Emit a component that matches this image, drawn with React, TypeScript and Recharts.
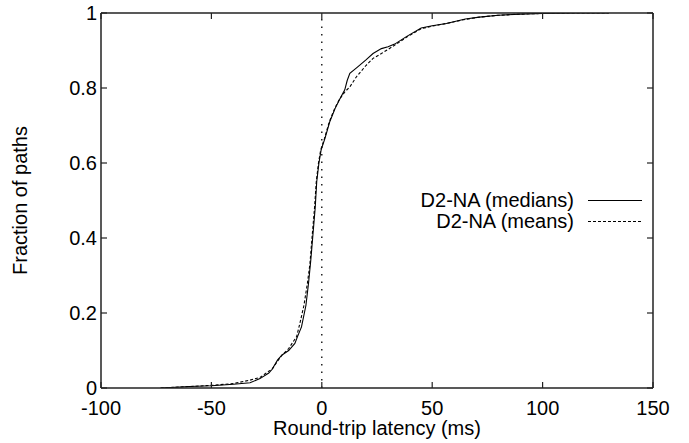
import * as React from 'react';
import { LineChart, Line, XAxis, YAxis, ReferenceLine, Label } from 'recharts';

// values (latency in ms, cumulative fraction of paths)
const medianLatency = [-73, -60, -50, -40, -32.5, -28, -24, -22.5, -20, -18, -15, -12.2, -11, -9.2, -7.2, -6, -5, -4, -3, -2.3, -1.3, -0.3, 1.4, 3.6, 6, 8.1, 10.4, 11.5, 12.7, 16, 20, 23.2, 27, 30, 33, 38.3, 45, 50, 56.4, 65, 71.4, 80, 90, 100, 115, 130];
const medianFraction = [0, 0.004, 0.006, 0.01, 0.014, 0.025, 0.04, 0.05, 0.075, 0.088, 0.1, 0.119, 0.137, 0.163, 0.22, 0.28, 0.34, 0.41, 0.48, 0.55, 0.6, 0.635, 0.665, 0.71, 0.745, 0.77, 0.795, 0.82, 0.839, 0.855, 0.875, 0.892, 0.905, 0.91, 0.917, 0.937, 0.96, 0.966, 0.972, 0.984, 0.989, 0.994, 0.997, 0.999, 1, 1];

const meanLatency = [-73, -60, -50, -40, -32.5, -28, -24, -22.5, -20, -18, -15, -13, -11.4, -9.9, -8.1, -6.5, -5.4, -4.3, -3.3, -2.5, -1.5, -0.5, 1.2, 3.4, 5.8, 8, 10.5, 12.7, 15.7, 20, 23.2, 27, 30, 32.2, 38.3, 45, 50, 56.4, 65, 71.4, 80, 90, 100, 115, 130];
const meanFraction = [0, 0.004, 0.007, 0.012, 0.021, 0.028, 0.045, 0.05, 0.072, 0.088, 0.105, 0.123, 0.137, 0.173, 0.22, 0.28, 0.33, 0.41, 0.48, 0.55, 0.6, 0.635, 0.665, 0.71, 0.745, 0.77, 0.79, 0.803, 0.83, 0.86, 0.879, 0.892, 0.903, 0.911, 0.935, 0.958, 0.965, 0.972, 0.983, 0.989, 0.994, 0.997, 0.999, 1, 1];

const xTicks = [-100, -50, 0, 50, 100, 150];
const yTicks = [0, 0.2, 0.4, 0.6, 0.8, 1];

const seriesNames = ['D2-NA (medians)', 'D2-NA (means)'];

const medians = medianLatency.map((v, i) => ({ v, f: medianFraction[i] }));
const means = meanLatency.map((v, i) => ({ v, f: meanFraction[i] }));

const FONT = '"Liberation Sans", Arial, sans-serif';
const INK = '#000';
const TICK = 6;
const axisStyle = { stroke: '#222', strokeWidth: 1.5 };

const BottomTick = (p: any) => (
  <g>
    <line x1={p.x} x2={p.x} y1={p.y} y2={p.y - TICK} stroke="#222" strokeWidth={1.2} />
    <text x={p.x} y={p.y + 27} textAnchor="middle" fontSize={20} fontFamily={FONT} fill={INK}>
      {p.payload.value}
    </text>
  </g>
);

const LeftTick = (p: any) => (
  <g>
    <line x1={p.x} x2={p.x + TICK} y1={p.y} y2={p.y} stroke="#222" strokeWidth={1.2} />
    <text x={p.x - 4} y={p.y} dy="0.36em" textAnchor="end" fontSize={20} fontFamily={FONT} fill={INK}>
      {p.payload.value}
    </text>
  </g>
);

const TopTick = (p: any) => (
  <line x1={p.x} x2={p.x} y1={p.y} y2={p.y + TICK} stroke="#222" strokeWidth={1.2} />
);

const RightTick = (p: any) => (
  <line x1={p.x} x2={p.x - TICK} y1={p.y} y2={p.y} stroke="#222" strokeWidth={1.2} />
);

// gnuplot-style key, placed over the plot area
const LegendBox = () => (
  <div style={{ position: 'absolute', left: 400, top: 190, width: 260, fontFamily: FONT, fontSize: 20, color: INK }}>
    {seriesNames.map((name, i) => (
      <div key={name} style={{ display: 'flex', alignItems: 'center', height: 21 }}>
        <span style={{ width: 174, textAlign: 'right', lineHeight: '21px', whiteSpace: 'nowrap' }}>{name}</span>
        <svg width={54} height={21} style={{ marginLeft: 14 }}>
          <line x1={0} x2={54} y1={10.5} y2={10.5} stroke={INK} strokeWidth={1.1}
            strokeDasharray={i === 1 ? '3 2' : undefined} />
        </svg>
      </div>
    ))}
  </div>
);

export default function App() {
  return (
    <div style={{ position: 'absolute', left: 0, top: 0, width: 689, height: 443, fontFamily: FONT }}>
      <LineChart width={689} height={443} margin={{ top: 0, right: 0, bottom: 0, left: 0 }}>
        <XAxis xAxisId="bottom" type="number" dataKey="v" domain={[-100, 150]} ticks={xTicks}
          height={55} tickSize={0} tickMargin={0} tickLine={false} axisLine={axisStyle}
          tick={BottomTick} allowDataOverflow>
          <Label content={(p: any) => (
            <text x={p.viewBox.x + p.viewBox.width / 2} y={p.viewBox.y + 47} textAnchor="middle"
              fontSize={20} fontFamily={FONT} fill={INK}>Round-trip latency (ms)</text>
          )} />
        </XAxis>
        <XAxis xAxisId="top" orientation="top" type="number" dataKey="v" domain={[-100, 150]} ticks={xTicks}
          height={13} tickSize={0} tickMargin={0} tickLine={false} axisLine={axisStyle}
          tick={TopTick} allowDataOverflow />
        <YAxis yAxisId="left" type="number" domain={[0, 1]} ticks={yTicks} width={101}
          tickSize={0} tickMargin={0} tickLine={false} axisLine={axisStyle} tick={LeftTick} allowDataOverflow>
          <Label content={(p: any) => {
            const cx = p.viewBox.x + 27;
            const cy = p.viewBox.y + p.viewBox.height / 2;
            return (
              <text x={cx} y={cy} transform={`rotate(-90 ${cx} ${cy})`} textAnchor="middle"
                fontSize={20} fontFamily={FONT} fill={INK}>Fraction of paths</text>
            );
          }} />
        </YAxis>
        <YAxis yAxisId="right" orientation="right" type="number" domain={[0, 1]} ticks={yTicks} width={36}
          tickSize={0} tickMargin={0} tickLine={false} axisLine={axisStyle} tick={RightTick} allowDataOverflow />
        <ReferenceLine xAxisId="bottom" yAxisId="left" x={0} stroke={INK} strokeWidth={1.3} strokeDasharray="1.5 6" />
        <Line xAxisId="bottom" yAxisId="left" data={medians} dataKey="f" name={seriesNames[0]} type="linear"
          stroke={INK} strokeWidth={1.1} dot={false} isAnimationActive={false} />
        <Line xAxisId="bottom" yAxisId="left" data={means} dataKey="f" name={seriesNames[1]} type="linear"
          stroke={INK} strokeWidth={1.1} strokeDasharray="3 2" dot={false} isAnimationActive={false} />
      </LineChart>
      <LegendBox />
    </div>
  );
}
